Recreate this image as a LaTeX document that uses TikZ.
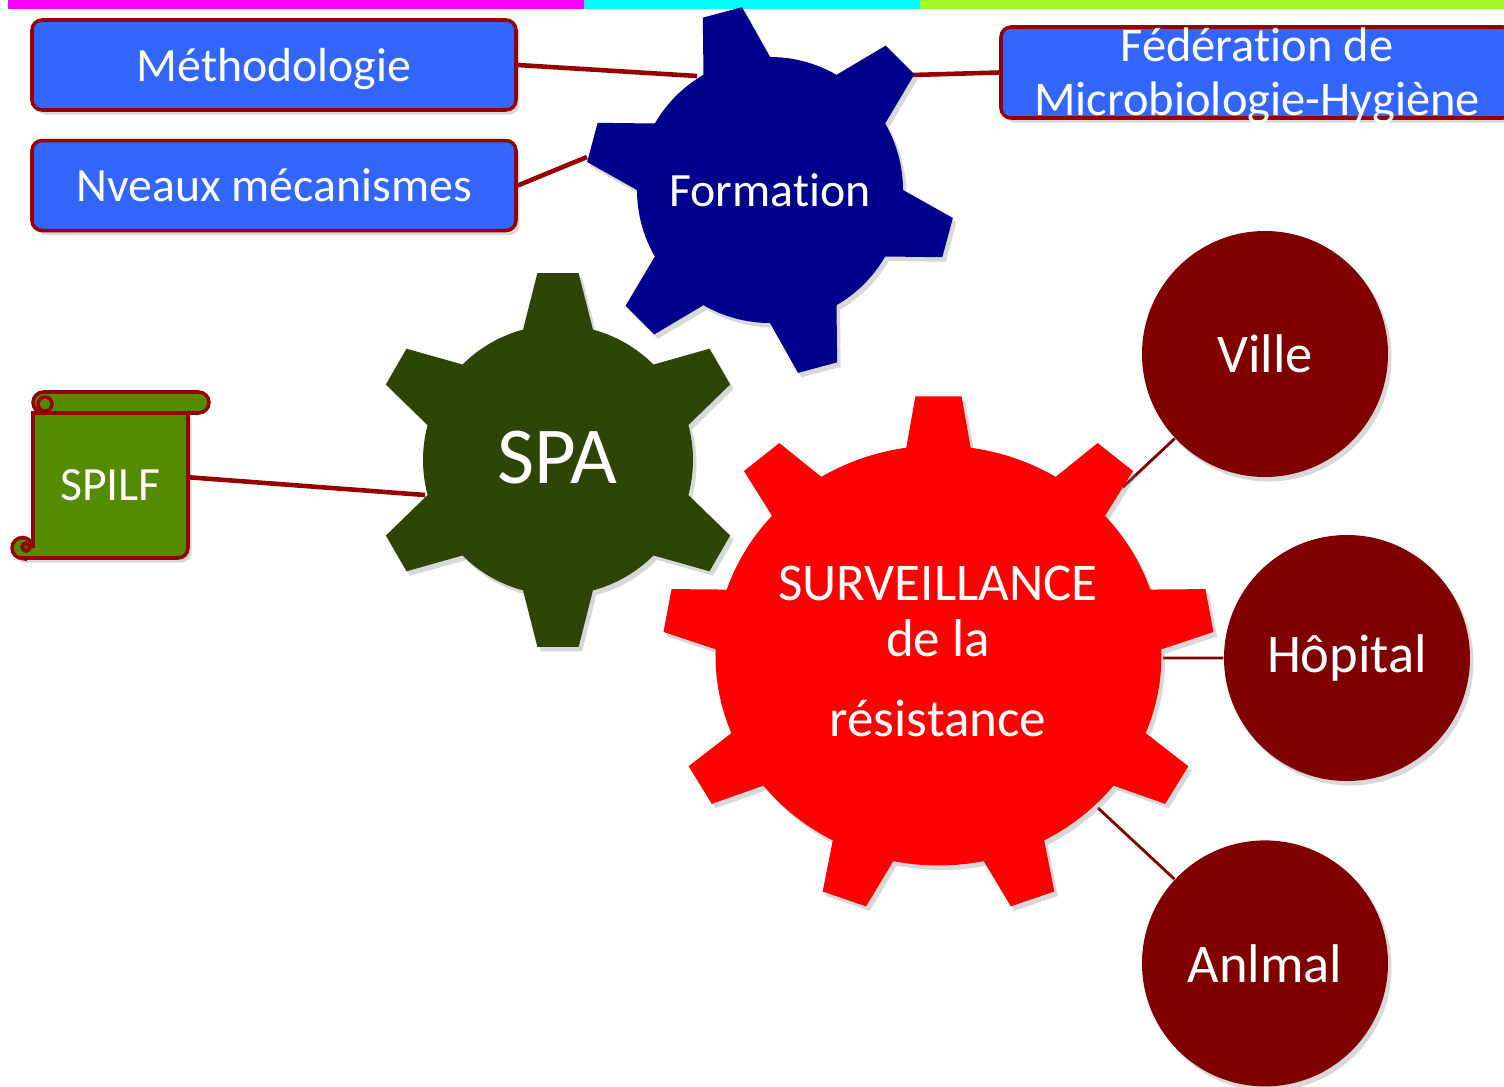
\documentclass[tikz,border=0pt]{standalone}
\usepackage{fontspec}
\setmainfont[Ligatures=NoCommon]{Carlito}
\usetikzlibrary{positioning, shadows}
\definecolor{boxblue}{RGB}{51,102,255}
\definecolor{linkred}{RGB}{150,0,0}
\definecolor{sitered}{RGB}{128,0,0}
\definecolor{formblue}{RGB}{0,0,140}
\definecolor{spagreen}{RGB}{45,69,5}
\definecolor{scrollgreen}{RGB}{84,139,0}
\definecolor{barmagenta}{RGB}{255,0,255}
\definecolor{barcyan}{RGB}{0,255,255}
\definecolor{bargreen}{RGB}{160,250,35}
\tikzset{
    soft shadow/.style={drop shadow={shadow xshift=0.35mm, shadow yshift=-0.45mm, opacity=0.3}},
    topic/.style={rounded corners=1mm, fill=boxblue, draw=linkred, line width=1pt, minimum width=48.4mm,
                  minimum height=9mm, text height=4mm, text depth=0.8mm, text=white,
                  font=\fontsize{13.6}{16}\selectfont, soft shadow},
    fedtext/.style={text=white, align=center, font=\fontsize{13.8}{15.4}\selectfont},
    site/.style={circle, fill=sitered, minimum size=24.6mm, inner sep=0pt, text=white,
                 font=\fontsize{15.5}{18}\selectfont, soft shadow},
    cog text/.style={text=white, align=center},
    scroll/.style={fill=scrollgreen, draw=linkred, line width=1pt},
    link/.style={draw=linkred, line width=1.3pt},
    thin link/.style={draw=sitered, line width=0.8pt}
}
% gear outline: first tooth, second tooth, last tooth, inner r, outer r, half base, half tip
\newcommand{\cogpath}[7]{%
    (#1-#6:#4) \foreach \a in {#1,#2,...,#3} {
        -- (\a-#6:#4) -- (\a-#7:#5) -- (\a+#7:#5) -- (\a+#6:#4)
        arc[start angle=\a+#6, end angle=\a+(#2)-(#1)-#6, radius=#4]} -- cycle}

\begin{document}
\begin{tikzpicture}[x=0.1mm, y=-0.1mm]
    \fill[white] (0,0) rectangle (1504,1087);
    \useasboundingbox (0,0) rectangle (1504,1087);

    % colour bar
    \fill[barmagenta] (8,0) rectangle (584,9);
    \fill[barcyan] (584,0) rectangle (920,9);
    \fill[bargreen] (920,0) rectangle (1504,9);

    \node[topic]                       (meth)   at (274,65)    {Méthodologie};
    \node[topic, below=2.7mm of meth]  (nveaux)                {Nveaux mécanismes};
    \node[topic, minimum width=51.2mm, minimum height=9.1mm,
          label={[fedtext, yshift=-0.35mm]center:{Fédération de\\Microbiologie-Hygiène}}] (fed) at (1257,72.5) {};

    \node[site]                        (ville)  at (1265,354)  {Ville};
    \node[site]                        (hop)    at (1347,658)  {Hôpital};
    \node[site, below=36.2mm of ville] (anim)                  {Anlmal};

    % scroll
    \filldraw[scroll, soft shadow] (22,558) -- (178,558) arc[start angle=90, end angle=0, radius=10]
        -- (188,413) -- (33,413) -- (33,548) arc[start angle=0, end angle=-270, radius=10.5] -- cycle;
    \filldraw[scroll] (33,392) [rounded corners=1.05mm] rectangle (209,413);
    \draw[scroll] (45,404) circle (7);
    \filldraw[scroll, fill=scrollgreen!70!black] (26,547) circle (4);
    \node[text=white, minimum width=15.5mm, minimum height=14.5mm,
          font=\fontsize{13.6}{16}\selectfont] (spilf) at (110.5,485.5) {SPILF};

    \coordinate (form-w)   at (697,76);
    \coordinate (form-sw)  at (587,157);
    \coordinate (form-e)   at (912,75);
    \coordinate (spa-w)    at (425,495);
    \coordinate (surv-ne)  at (1123,487);
    \coordinate (surv-e)   at (1163,658);
    \coordinate (surv-se)  at (1098,808);

    \path[link] (meth.east) -- (form-w)
                (nveaux.east) -- (form-sw)
                (form-e) -- (fed.west)
                (spilf.6) -- (spa-w);
    \path[thin link] (surv-ne) -- (ville)
                     (surv-e) -- (hop)
                     (surv-se) -- (anim);

    % gears
    \fill[formblue, soft shadow, shift={(770,190)}] \cogpath{-105}{-45}{195}{133}{185}{15}{6.3};
    \fill[spagreen, soft shadow, shift={(558,460)}] \cogpath{-90}{-30}{210}{135}{188}{15}{6.3};
    \fill[red, soft shadow, shift={(938.5,655.5)}, xscale=1.062]
        \cogpath{-90}{-50}{230}{210}{260}{8.3}{4.8};

    \node[cog text, font=\fontsize{13.6}{16}\selectfont]   (form) at (770,190) {Formation};
    \node[cog text, font=\fontsize{23}{27}\selectfont]     (spa)  at (557,458) {SPA};
    \node[cog text, font=\fontsize{15.1}{16.2}\selectfont] (surv) at (938,651)
        {SURVEILLANCE\\de la\\[6.3pt]résistance};
\end{tikzpicture}
\end{document}
